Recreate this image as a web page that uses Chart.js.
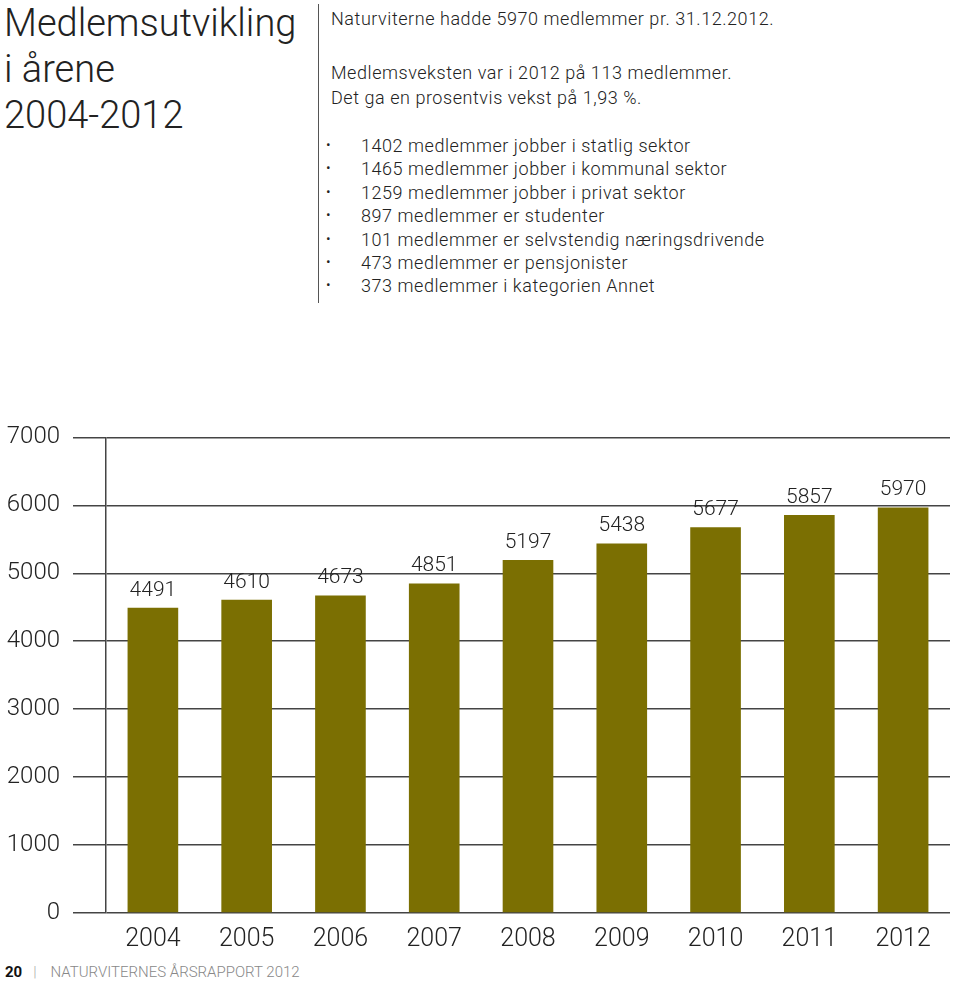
<!DOCTYPE html>
<html>
<head>
<meta charset="utf-8">
<script src="https://cdn.jsdelivr.net/npm/chart.js@4"></script>
<style>
  body { margin: 0; width: 960px; height: 981px; background: #fff; font-family: Roboto, sans-serif; color: #222; position: relative; overflow: hidden; }
  #title { position: absolute; left: 4px; top: 0px; font-size: 38px; font-weight: 300; line-height: 46px; color: #222; }
  #rule { position: absolute; left: 318px; top: 4px; width: 1px; height: 299px; background: #555; }
  #intro { position: absolute; left: 331px; top: 6px; font-size: 18px; letter-spacing: 0.55px; font-weight: 300; line-height: 25px; }
  #intro p { margin: 0 0 29px 0; }
  #bullets { position: absolute; left: 323px; top: 134px; margin: 0; padding: 0; list-style: none; font-size: 18px; letter-spacing: 0.55px; font-weight: 300; }
  #bullets li { display: block; height: 23.4px; line-height: 23.4px; white-space: nowrap; }
  #bullets li span { display: inline-block; width: 38px; padding-left: 3px; box-sizing: border-box; font-size: 14px; position: relative; top: -2px; }
  #footer { position: absolute; left: 5px; top: 963px; font-size: 15px; color: #888; font-weight: 300; }
  #footer b { color: #111; font-weight: 700; }
  #footer i { font-style: normal; color: #aaa; margin: 0 14px 0 11px; }
  #chartBox { position: absolute; left: 0; top: 410px; width: 960px; height: 557px; }
</style>
</head>
<body>
<div id="title">Medlemsutvikling<br>i årene<br>2004-2012</div>
<div id="rule"></div>
<div id="intro">
  <p>Naturviterne hadde 5970 medlemmer pr. 31.12.2012.</p>
  <div>Medlemsveksten var i 2012 på 113 medlemmer.<br>Det ga en prosentvis vekst på 1,93 %.</div>
</div>
<ul id="bullets"></ul>
<div id="footer"><b>20</b><i>|</i>NATURVITERNES ÅRSRAPPORT 2012</div>
<div id="chartBox"><canvas id="members"></canvas></div>

<script>
const years = ['2004', '2005', '2006', '2007', '2008', '2009', '2010', '2011', '2012'];
const members = [4491, 4610, 4673, 4851, 5197, 5438, 5677, 5857, 5970];
const yTicks = [0, 1000, 2000, 3000, 4000, 5000, 6000, 7000];
const facts = [
  '1402 medlemmer jobber i statlig sektor',
  '1465 medlemmer jobber i kommunal sektor',
  '1259 medlemmer jobber i privat sektor',
  '897 medlemmer er studenter',
  '101 medlemmer er selvstendig næringsdrivende',
  '473 medlemmer er pensjonister',
  '373 medlemmer i kategorien Annet'
];

const list = document.getElementById('bullets');
facts.forEach(f => {
  const li = document.createElement('li');
  const dot = document.createElement('span');
  dot.textContent = '•';
  li.appendChild(dot);
  li.appendChild(document.createTextNode(f));
  list.appendChild(li);
});

// value labels above each bar
const valueLabels = {
  id: 'valueLabels',
  afterDatasetsDraw(chart) {
    const ctx = chart.ctx;
    const meta = chart.getDatasetMeta(0);
    ctx.save();
    ctx.font = '300 21px Roboto';
    ctx.fillStyle = '#222';
    ctx.textAlign = 'center';
    ctx.textBaseline = 'bottom';
    meta.data.forEach((bar, i) => {
      ctx.fillText(members[i], bar.x, bar.y - 7);
    });
    ctx.restore();
  }
};

new Chart(document.getElementById('members'), {
  type: 'bar',
  data: {
    labels: years,
    datasets: [{
      data: members,
      backgroundColor: '#7b6f02',
      barPercentage: 0.54,
      categoryPercentage: 1
    }]
  },
  options: {
    responsive: true,
    maintainAspectRatio: false,
    animation: false,
    layout: { padding: { top: 8, right: 10, bottom: 8, left: 0 } },
    plugins: { legend: { display: false }, tooltip: { enabled: false } },
    scales: {
      x: {
        grid: { display: false },
        border: { display: false },
        ticks: { color: '#222', font: { family: 'Roboto', size: 25, weight: '300' }, padding: 4, maxRotation: 0 }
      },
      y: {
        min: 0,
        max: 7000,
        afterBuildTicks: scale => { scale.ticks = yTicks.map(v => ({ value: v })); },
        afterFit: scale => { scale.width = 106; },
        grid: { color: '#444', lineWidth: 1.5, tickLength: 33 },
        border: { display: true, color: '#444', width: 1.5 },
        ticks: {
          color: '#222',
          font: { family: 'Roboto', size: 24, weight: '300' },
          padding: 13,
          callback: v => String(v)
        }
      }
    }
  },
  plugins: [valueLabels]
});
</script>
</body>
</html>
